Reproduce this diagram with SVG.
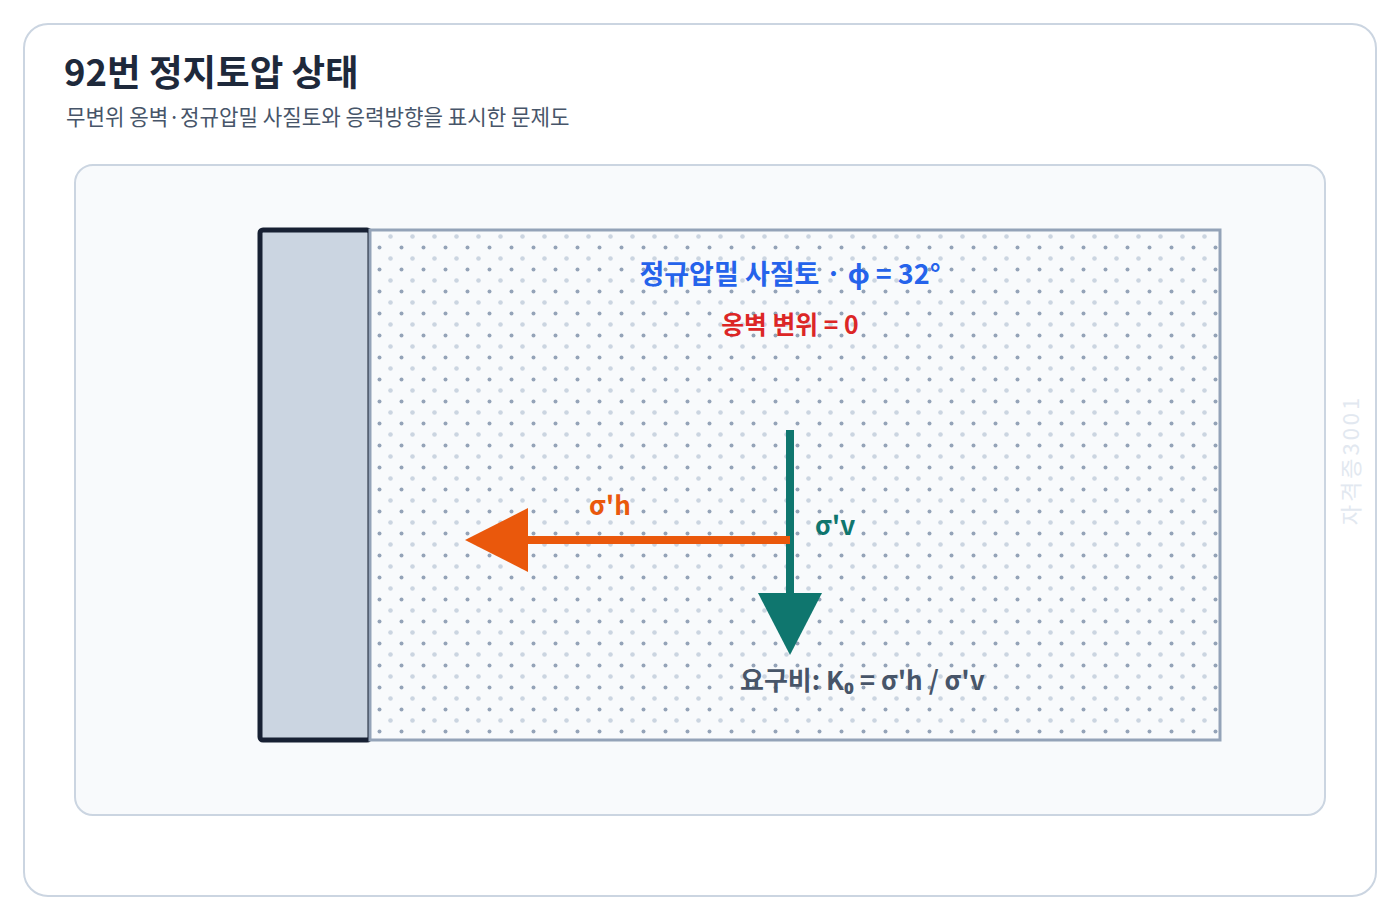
<svg xmlns="http://www.w3.org/2000/svg" width="1400" height="920" viewBox="0 0 1400 920">
<style>
text{font-family:"Noto Sans CJK KR","Noto Sans",sans-serif}
.title{font-size:36.5px;font-weight:700;fill:#1e293b}
.sub{font-size:21.2px;fill:#475569}
.lbl{font-size:26px;font-weight:700}
</style>
<defs>
<pattern id="dots" width="22" height="22" patternUnits="userSpaceOnUse">
<circle cx="5.5" cy="5.5" r="2" fill="#94a3b8"/>
<circle cx="16.5" cy="16.5" r="2.3" fill="#cbd5e1"/>
</pattern>
</defs>
<rect x="0" y="0" width="1400" height="920" fill="#ffffff"/>
<rect x="24" y="24" width="1352" height="872" rx="24" fill="#ffffff" stroke="#cbd5e1" stroke-width="2"/>
<text class="title" x="64" y="86">92번 정지토압 상태</text>
<text class="sub" x="66" y="125">무변위 옹벽·정규압밀 사질토와 응력방향을 표시한 문제도</text>
<rect x="75" y="165" width="1250" height="650" rx="18" fill="#f8fafc" stroke="#cbd5e1" stroke-width="2"/>
<g id="wall">
<rect x="260" y="230" width="110" height="510" rx="3" fill="#cbd5e1" stroke="#172033" stroke-width="5"/>
</g>
<g id="soil">
<rect x="370" y="230" width="850" height="510" fill="#f8fafc"/>
<rect x="370" y="230" width="850" height="510" fill="url(#dots)" stroke="#94a3b8" stroke-width="3"/>
<text x="790" y="284" text-anchor="middle" font-size="27" font-weight="700" fill="#2563eb">정규압밀 사질토 · ϕ = 32°</text>
<text x="790" y="334" text-anchor="middle" font-size="24.8" font-weight="700" fill="#dc2626">옹벽 변위 = 0</text>
</g>
<g id="connectors">
<line x1="790" y1="430" x2="790" y2="598" stroke="#0f766e" stroke-width="8"/>
<polygon points="758,593 822,593 790,655" fill="#0f766e"/>
<line x1="790" y1="540" x2="524" y2="540" stroke="#ea580c" stroke-width="8"/>
<polygon points="528,508 528,572 465,540" fill="#ea580c"/>
</g>
<g id="labels">
<text class="lbl" x="610" y="515" text-anchor="middle" fill="#ea580c">σ'h</text>
<text class="lbl" x="815" y="535" fill="#0f766e">σ'v</text>
<text class="lbl" x="740" y="690" fill="#475569" font-weight="600">요구비: K₀ = σ'h / σ'v</text>
</g>
<text x="1359" y="460" text-anchor="middle" font-size="22" fill="#e2e8f0" letter-spacing="3" transform="rotate(-90 1359 460)">자격증3001</text>
</svg>
